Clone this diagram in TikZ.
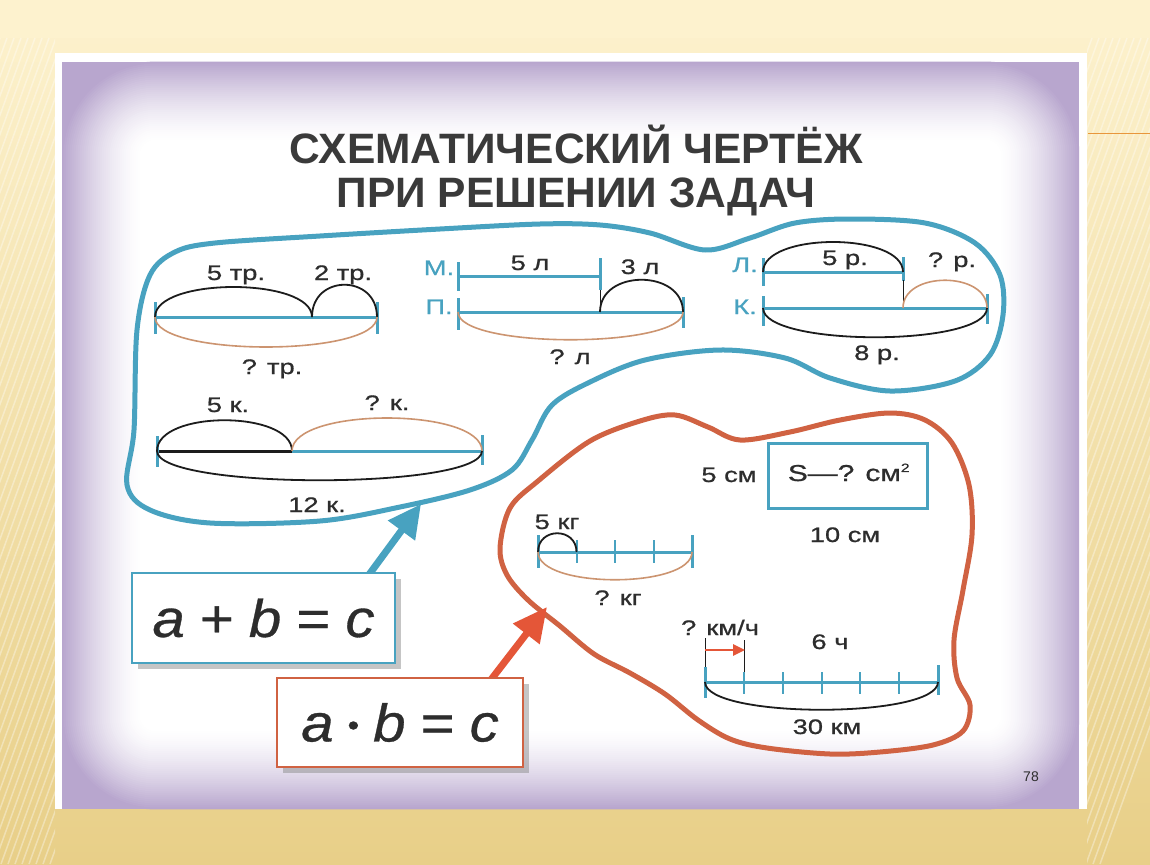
\documentclass[tikz,border=0pt]{standalone}
\usepackage{fontspec}
\setmainfont{Liberation Sans}
\newfontfamily\lblfont[FakeStretch=1.3,FakeBold=0.8]{Liberation Sans}
\newfontfamily\formfont[FakeStretch=1.1,FakeBold=0.6]{Liberation Sans}
\usetikzlibrary{calc,shadows,arrows.meta}
\definecolor{bgtop}{RGB}{253,242,206}
\definecolor{bgbot}{RGB}{232,207,136}
\definecolor{lav}{RGB}{184,166,206}
\definecolor{tblue}{RGB}{72,162,192}
\definecolor{ored}{RGB}{208,98,66}
\definecolor{oarrow}{RGB}{228,86,56}
\definecolor{arctan}{RGB}{204,148,112}
\definecolor{arcblack}{RGB}{28,28,28}
\definecolor{ink}{RGB}{45,45,45}
\definecolor{titlec}{RGB}{58,58,58}
\definecolor{deco}{RGB}{232,150,60}
\tikzset{
  lbl/.style={font=\lblfont\fontsize{21}{21}\selectfont, text=ink, anchor=base, inner sep=0pt},
  tlbl/.style={lbl, text=tblue},
  segline/.style={draw=tblue, line width=3pt},
  tickmark/.style={draw=tblue, line width=3pt},
  smalltick/.style={draw=tblue, line width=2pt},
  blkarc/.style={draw=arcblack, line width=1.8pt},
  tanarc/.style={draw=arctan, line width=1.6pt},
  thinblk/.style={draw=arcblack, line width=1pt},
  blobline/.style={line width=5pt, line join=round},
  fbox/.style={draw, line width=2.5pt, fill=white, inner sep=0pt,
    font=\formfont\fontsize{53}{53}\selectfont, text=ink,
    drop shadow={shadow xshift=6pt, shadow yshift=-6pt, fill=black!45, opacity=0.5}},
  titletext/.style={font=\bfseries\fontsize{42.5}{42.5}\selectfont, text=titlec, anchor=base, inner sep=0pt},
}
\begin{document}
\begin{tikzpicture}[x=1pt,y=-1pt]
\useasboundingbox (0,0) rectangle (1150,864);
% background
\shade[top color=bgtop, bottom color=bgbot] (0,0) rectangle (1150,864);
\fill[bgtop] (0,0) rectangle (1150,38);
\begin{scope}
  \clip (0,38) rectangle (55,864) (1087,38) rectangle (1150,864);
  \foreach \i in {0,...,200} {
    \draw[white, opacity=0.35, line width=1.5pt] (\i*7-300,864) -- (\i*7,38);
  }
\end{scope}
\draw[deco, line width=1pt] (1088,133) -- (1150,133);
% card
\fill[white] (55,53) rectangle (1087,809);
\fill[lav] (62,62) rectangle (1079,809);
\begin{scope}
  \clip (62,62) rectangle (1079,809);
  \foreach \k in {0,...,40} {
    \pgfmathsetmacro\ins{1+2*\k}
    \pgfmathsetmacro\pp{100*(1-\k/40)^1.5}
    \pgfmathsetmacro\rr{max(92-2*\k,6)}
    \draw[lav!\pp!white, line width=2.8pt, rounded corners=\rr pt] (62+\ins,62+\ins) rectangle (1079-\ins,809-\ins);
  }
  \fill[white, rounded corners=6pt] (144,144) rectangle (997,727);
\end{scope}
% title
\node[titletext] (t1) at (576,163) {СХЕМАТИЧЕСКИЙ ЧЕРТЁЖ};
\node[titletext] (t2) at (576,207) {ПРИ РЕШЕНИИ ЗАДАЧ};
% blue blob
\draw[blobline, draw=tblue] plot[smooth cycle, tension=0.55] coordinates {
 (134,430) (137,330) (150,275) (175,252) (215,243) (320,236) (440,229) (540,224)
 (600,225) (650,233) (705,250) (750,238) (795,223) (850,219) (925,223) (975,243)
 (1000,275) (1003,315) (990,355) (955,381) (890,391) (830,378) (785,358) (720,350)
 (645,360) (590,382) (552,405) (532,440) (512,470) (470,490) (400,507) (320,521)
 (210,523) (150,510) (127,485)};
% orange blob
\draw[blobline, draw=ored] plot[smooth cycle, tension=0.55] coordinates {
 (500,548) (510,508) (538,481) (590,441) (640,421) (675,415) (708,427) (740,440)
 (790,432) (840,420) (890,413) (925,420) (952,443) (969,485) (972,535) (963,590)
 (954,640) (957,678) (970,705) (963,731) (933,745) (880,752) (830,754) (767,748)
 (730,739) (698,720) (665,694) (630,673) (594,654) (560,626) (528,600) (507,575)};

% ---------- segment 1 ----------
\coordinate (s1a) at (155,317);
\coordinate (s1m) at (312,317);
\coordinate (s1b) at (377,317);
\draw[segline] (s1a) -- (s1b);
\draw[tickmark] (155,302) -- (155,334);
\draw[tickmark] (377,302) -- (377,334);
\draw[blkarc] (s1a) .. controls ($(s1a)+(0,-40)$) and ($(s1m)+(0,-40)$) .. (s1m);
\draw[blkarc] (s1m) .. controls ($(s1m)+(0,-43)$) and ($(s1b)+(0,-43)$) .. (s1b);
\draw[tanarc] (s1a) .. controls ($(s1a)+(0,40)$) and ($(s1b)+(0,40)$) .. (s1b);
\node[lbl] (l11) at (236,280) {5 тр.};
\node[lbl] (l12) at (343,280) {2 тр.};
\node[lbl] (l13) at (272,374) {? тр.};

% ---------- segment 2 ----------
\coordinate (m2a) at (458,276);
\coordinate (m2b) at (600,276);
\coordinate (p2a) at (458,312);
\coordinate (p2m) at (600,312);
\coordinate (p2b) at (683,312);
\draw[segline] (m2a) -- (m2b);
\draw[segline] (p2a) -- (p2b);
\draw[tickmark] (458,262) -- (458,291);
\draw[tickmark] (600,258) -- (600,290);
\draw[tickmark] (458,298) -- (458,330);
\draw[tickmark] (683,297) -- (683,328);
\draw[thinblk] (600,290) -- (p2m);
\draw[blkarc] (p2m) .. controls ($(p2m)+(0,-43)$) and ($(p2b)+(0,-43)$) .. (p2b);
\draw[tanarc] (p2a) .. controls ($(p2a)+(0,37)$) and ($(p2b)+(0,37)$) .. (p2b);
\node[tlbl] (l21) at (439,275) {М.};
\node[tlbl] (l22) at (439,314) {П.};
\node[lbl] (l23) at (530,270) {5 л};
\node[lbl] (l24) at (640,274) {3 л};
\node[lbl] (l25) at (570,364) {? л};

% ---------- segment 3 ----------
\coordinate (a3a) at (763,272);
\coordinate (a3b) at (903,272);
\coordinate (k3a) at (763,308);
\coordinate (k3m) at (903,308);
\coordinate (k3b) at (987,308);
\draw[segline] (a3a) -- (a3b);
\draw[segline] (k3a) -- (k3b);
\draw[tickmark] (763,258) -- (763,286);
\draw[tickmark] (903,257) -- (903,281);
\draw[tickmark] (763,296) -- (763,326);
\draw[tickmark] (987,294) -- (987,324);
\draw[thinblk] (903,280) -- (k3m);
\draw[blkarc] (a3a) .. controls ($(a3a)+(0,-40)$) and ($(a3b)+(0,-40)$) .. (a3b);
\draw[tanarc] (k3m) .. controls ($(k3m)+(0,-37)$) and ($(k3b)+(0,-37)$) .. (k3b);
\draw[blkarc] (k3a) .. controls ($(k3a)+(0,39)$) and ($(k3b)+(0,39)$) .. (k3b);
\node[tlbl] (l31) at (745,272) {Л.};
\node[tlbl] (l32) at (745,314) {К.};
\node[lbl] (l33) at (845,265) {5 р.};
\node[lbl] (l34) at (952,267) {? р.};
\node[lbl] (l35) at (877,360) {8 р.};

% ---------- segment 4 ----------
\coordinate (s4a) at (157,451);
\coordinate (s4m) at (292,451);
\coordinate (s4b) at (482,451);
\draw[draw=arcblack, line width=3pt] (s4a) -- (s4m);
\draw[segline] (s4m) -- (s4b);
\draw[tickmark] (157,436) -- (157,467);
\draw[tickmark] (482,435) -- (482,465);
\draw[blkarc] (s4a) .. controls ($(s4a)+(0,-41)$) and ($(s4m)+(0,-41)$) .. (s4m);
\draw[tanarc] (s4m) .. controls ($(s4m)+(0,-44)$) and ($(s4b)+(0,-44)$) .. (s4b);
\draw[blkarc] (s4a) .. controls ($(s4a)+(0,39)$) and ($(s4b)+(0,39)$) .. (s4b);
\node[lbl] (l41) at (228,412) {5 к.};
\node[lbl] (l42) at (387,410) {? к.};
\node[lbl] (l43) at (317,512) {12 к.};

% ---------- rectangle ----------
\node[draw=tblue, line width=3pt, minimum width=159pt, minimum height=65pt, inner sep=0pt] (rect) at (847.5,475.5) {};
\node[lbl, font=\lblfont\fontsize{23}{23}\selectfont] (l51) at (849,481) {S—? см\textsuperscript{\fontsize{12}{12}\selectfont 2}};
\node[lbl] (l52) at (729,482) {5 см};
\node[lbl] (l53) at (845,542) {10 см};

% ---------- segment 5 (kg) ----------
\coordinate (s5a) at (538,552);
\coordinate (s5t) at (576.5,552);
\coordinate (s5b) at (692,552);
\draw[segline] (s5a) -- (s5b);
\draw[tickmark] (538,535) -- (538,568);
\draw[tickmark] (692,535) -- (692,568);
\foreach \xx in {576.5,615,653.5} { \draw[smalltick] (\xx,540) -- (\xx,563); }
\draw[blkarc] (s5a) .. controls ($(s5a)+(0,-25)$) and ($(s5t)+(0,-25)$) .. (s5t);
\draw[tanarc] (s5a) .. controls ($(s5a)+(0,37)$) and ($(s5b)+(0,37)$) .. (s5b);
\node[lbl] (l61) at (557,529) {5 кг};
\node[lbl] (l62) at (618,605) {? кг};

% ---------- segment 6 (speed) ----------
\coordinate (s6a) at (705,682);
\coordinate (s6b) at (938,682);
\draw[segline] (s6a) -- (s6b);
\draw[tickmark] (705,667) -- (705,698);
\draw[tickmark] (938,665) -- (938,695);
\foreach \xx in {743.8,782.7,821.5,860.3,899.2} { \draw[smalltick] (\xx,672) -- (\xx,694); }
\draw[thinblk] (705,638) -- (705,667);
\draw[thinblk] (744,640) -- (744,672);
\coordinate (v1) at (705,650);
\coordinate (v2) at (745,650);
\draw[oarrow, line width=2.5pt, -{Triangle[length=12pt,width=11pt]}] (v1) -- (v2);
\draw[blkarc] (s6a) .. controls ($(s6a)+(0,37)$) and ($(s6b)+(0,37)$) .. (s6b);
\node[lbl] (l71) at (720,635) {? км/ч};
\node[lbl] (l72) at (830,649) {6 ч};
\node[lbl] (l73) at (827,734) {30 км};

% ---------- arrows ----------
\coordinate (bstart) at (368,576);
\coordinate (btip) at (421,504);
\draw[tblue, line width=7pt, -{Triangle[length=33pt,width=32pt]}] (bstart) -- (btip);
\coordinate (ostart) at (490,681);
\coordinate (otip) at (547,607);
\draw[oarrow, line width=7pt, -{Triangle[length=34pt,width=32pt]}] (ostart) -- (otip);

% ---------- formula boxes ----------
\node[fbox, draw=tblue, minimum width=263pt, minimum height=90pt] (f1) at (263.5,618)
  {\itshape a\upshape\hspace{15pt}+\hspace{15pt}\itshape b\upshape\hspace{15pt}=\hspace{15pt}\itshape c};
\node[fbox, draw=ored, minimum width=246pt, minimum height=89pt] (f2) at (400,722.5)
  {\itshape a\upshape\hspace{14pt}{\fontsize{30}{30}\selectfont\raisebox{6pt}{•}}\hspace{14pt}\itshape b\upshape\hspace{15pt}=\hspace{15pt}\itshape c};

% page number
\node[font=\fontsize{14}{14}\selectfont, text=ink, inner sep=0pt] (pg) at (1031,777) {78};
\end{tikzpicture}
\end{document}
